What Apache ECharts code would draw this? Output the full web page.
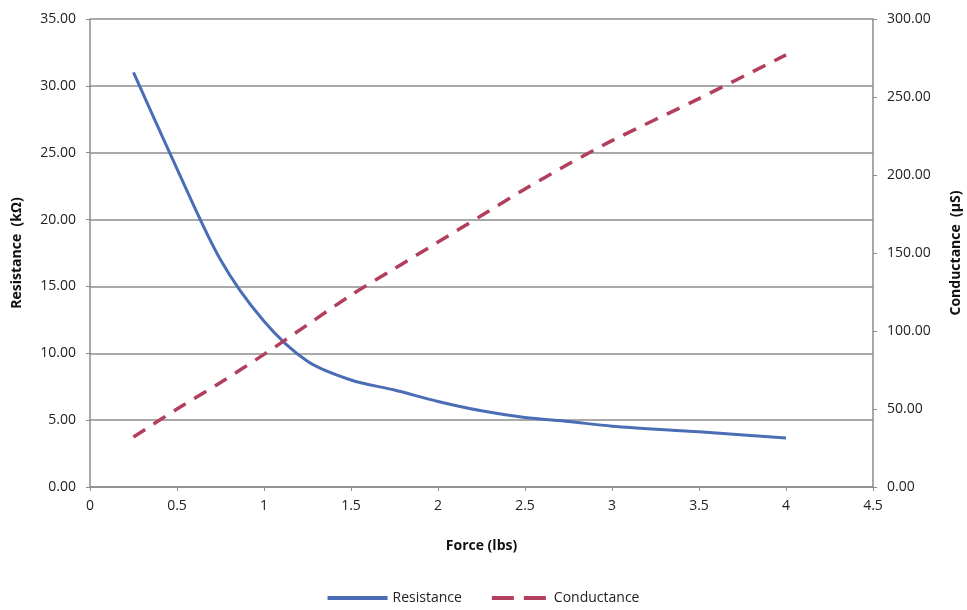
<!DOCTYPE html>
<html>
<head>
<meta charset="utf-8">
<script src="https://cdn.jsdelivr.net/npm/echarts@6/dist/echarts.min.js"></script>
<style>
  html, body { margin: 0; padding: 0; background: #fff; }
  #chart { width: 967px; height: 610px; }
</style>
</head>
<body>
<div id="chart"></div>
<script>
var force = [0.25, 0.5, 0.75, 1, 1.25, 1.5, 1.75, 2, 2.25, 2.5, 2.75, 3, 3.5, 4];
var resistance = [31.0, 23.8, 17.0, 12.4, 9.4, 8.0, 7.25, 6.4, 5.7, 5.2, 4.9, 4.55, 4.13, 3.66];
var conductance = [32, 50, 67, 85, 104, 123, 140, 157, 174, 191, 207, 222, 249, 277];

var font = 'Open Sans';
var dom = document.getElementById('chart');
var chart = echarts.init(dom);

function pairs(ys) {
    var out = [];
    for (var i = 0; i < force.length; i++) {
        out.push([force[i], ys[i]]);
    }
    return out;
}

var option = {
    animation: false,
    textStyle: { fontFamily: font },
    grid: { left: 90, right: 94, top: 19, bottom: 123, outerBoundsMode: 'none', containLabel: false },
    legend: {
        bottom: 0,
        left: 'center',
        itemWidth: 60,
        itemHeight: 4,
        itemGap: 30,
        textStyle: { fontSize: 14, color: '#222', fontFamily: font },
        data: [
            { name: 'Resistance', icon: 'path://M0,0 L60,0 L60,4 L0,4 Z' },
            { name: 'Conductance', icon: 'path://M0,0 L22,0 L22,4 L0,4 Z M32,0 L54,0 L54,4 L32,4 Z' }
        ]
    },
    xAxis: {
        type: 'value',
        min: 0,
        max: 4.5,
        interval: 0.5,
        name: 'Force (lbs)',
        nameLocation: 'middle',
        nameGap: 52,
        nameTextStyle: { fontWeight: 'bold', fontSize: 14, color: '#111' },
        axisLine: { show: true, lineStyle: { color: '#8c8c8c', width: 1.5 } },
        axisTick: { show: true, inside: false, length: 4, lineStyle: { color: '#8c8c8c' } },
        axisLabel: { fontSize: 14, color: '#222', margin: 12 },
        splitLine: { show: false }
    },
    yAxis: [
        {
            type: 'value',
            min: 0,
            max: 35,
            interval: 5,
            position: 'left',
            name: 'Resistance  (kΩ)',
            nameLocation: 'middle',
            nameRotate: 90,
            nameGap: 66,
            nameTextStyle: { fontWeight: 'bold', fontSize: 14, color: '#111' },
            axisLine: { show: true, lineStyle: { color: '#8c8c8c', width: 1.5 } },
            axisTick: { show: true, length: 4, lineStyle: { color: '#8c8c8c' } },
            axisLabel: { fontSize: 14, color: '#222', margin: 14, formatter: function (v) { return v.toFixed(2); } },
            splitLine: { show: true, lineStyle: { color: '#8c8c8c', width: 1.5 } }
        },
        {
            type: 'value',
            min: 0,
            max: 300,
            interval: 50,
            position: 'right',
            name: 'Conductance  (µS)',
            nameLocation: 'middle',
            nameRotate: 90,
            nameGap: 76,
            nameTextStyle: { fontWeight: 'bold', fontSize: 14, color: '#111' },
            axisLine: { show: true, lineStyle: { color: '#8c8c8c', width: 1.5 } },
            axisTick: { show: true, length: 4, lineStyle: { color: '#8c8c8c' } },
            axisLabel: { fontSize: 14, color: '#222', margin: 14, formatter: function (v) { return v.toFixed(2); } },
            splitLine: { show: false }
        }
    ],
    series: [
        {
            name: 'Resistance',
            type: 'line',
            yAxisIndex: 0,
            smooth: 0.3,
            symbol: 'none',
            lineStyle: { color: '#4a6db5', width: 3 },
            itemStyle: { color: '#4a6db5' },
            data: pairs(resistance)
        },
        {
            name: 'Conductance',
            type: 'line',
            yAxisIndex: 1,
            smooth: 0.3,
            symbol: 'none',
            lineStyle: { color: '#b23f5c', width: 3.5, type: [14, 10] },
            itemStyle: { color: '#b23f5c' },
            data: pairs(conductance)
        }
    ]
};

chart.setOption(option);
</script>
</body>
</html>
